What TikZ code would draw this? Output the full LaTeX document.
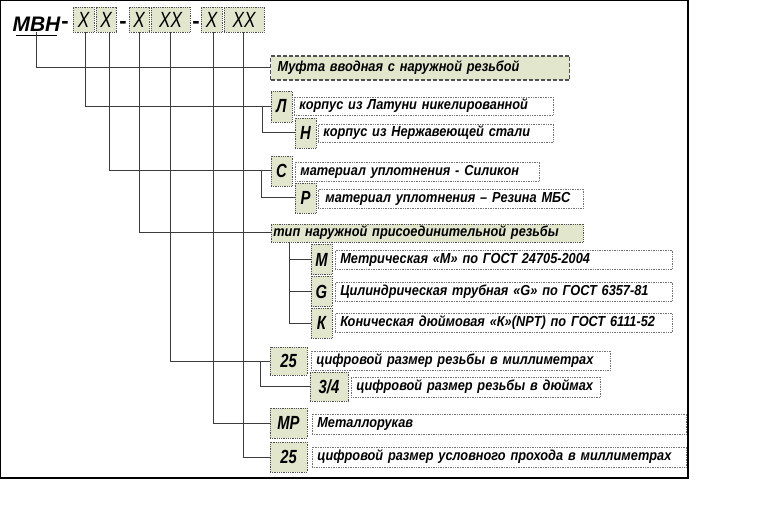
\documentclass[tikz,border=0pt]{standalone}
\usepackage{fontspec}
\setmainfont{Liberation Sans}
\newfontfamily\descfont[FakeStretch=0.88]{Liberation Sans}
\newfontfamily\narrowfont[FakeStretch=0.78]{Liberation Sans}
\definecolor{boxgreen}{RGB}{226,230,204}
\definecolor{edgegray}{RGB}{80,80,80}
\definecolor{conncol}{RGB}{60,60,60}
\begin{document}
\begin{tikzpicture}[x=1bp,y=-1bp,
  hdrbox/.style={draw=edgegray, densely dotted, line width=0.8bp, fill=boxgreen, inner sep=0pt,
    minimum height=25bp, font=\narrowfont\itshape\fontsize{22bp}{22bp}\selectfont},
  lbox/.style={draw=edgegray, densely dotted, line width=0.8bp, fill=boxgreen, inner sep=0pt,
    font=\narrowfont\bfseries\itshape\fontsize{19bp}{19bp}\selectfont},
  tbox/.style={draw=edgegray!80, densely dotted, line width=0.7bp, fill=white, anchor=west,
    inner xsep=5bp, inner ysep=0pt, align=left,
    font=\descfont\bfseries\itshape\fontsize{14.5bp}{15bp}\selectfont},
  mbox/.style={draw=edgegray, dash pattern=on 4bp off 2bp, line width=1.1bp, fill=boxgreen, anchor=west,
    inner xsep=7bp, inner ysep=0pt, align=left, minimum height=24bp,
    font=\descfont\bfseries\itshape\fontsize{14.5bp}{15bp}\selectfont},
  tipbox/.style={draw=edgegray, densely dotted, line width=0.8bp, fill=boxgreen, anchor=west,
    inner xsep=2bp, inner ysep=0pt, align=left, minimum height=18bp,
    font=\descfont\bfseries\itshape\fontsize{14.5bp}{15bp}\selectfont},
  conn/.style={draw=conncol, line width=1bp},
  dashmark/.style={inner sep=0pt, anchor=base, font=\bfseries\fontsize{22bp}{22bp}\selectfont}
]
\useasboundingbox (0,0) rectangle (758,513);
\draw[line width=1.5bp] (0.75,0.75) rectangle (688,478);

% header
\node[anchor=base, inner sep=0pt, font=\bfseries\itshape\fontsize{21bp}{21bp}\selectfont] (mvn) at (36.5,32) {МВН};
\draw[line width=1.3bp] (16,35.5) -- (57,35.5);
\node[dashmark] (d1) at (65,29) {-};
\node[dashmark] (d2) at (123,29) {-};
\node[dashmark] (d3) at (196,29) {-};
\node[hdrbox, minimum width=21bp] (b1) at (83.5,19.5) {X};
\node[hdrbox, minimum width=20bp] (b2) at (106,19.5) {X};
\node[hdrbox, minimum width=20bp] (b3) at (139,19.5) {X};
\node[hdrbox, minimum width=39bp] (b4) at (170.5,19.5) {XX};
\node[hdrbox, minimum width=21bp] (b5) at (211.5,19.5) {X};
\node[hdrbox, minimum width=40bp] (b6) at (244,19.5) {XX};

% row 1
\node[mbox, text width=285bp] (muf) at (270,68) {\mbox{Муфта вводная с наружной резьбой}};

% row 2: L / N
\node[lbox, minimum width=21bp, minimum height=31bp] (L) at (281.5,106.5) {Л};
\node[tbox, text width=249bp, minimum height=18bp] (Lt) at (294,106) {\mbox{корпус из Латуни никелированной}};
\node[lbox, minimum width=21bp, minimum height=30bp] (N) at (305.5,133) {Н};
\node[tbox, text width=225bp, minimum height=18bp] (Nt) at (318,133) {\mbox{корпус из Нержавеющей стали}};

% row 3: S / R
\node[lbox, minimum width=21bp, minimum height=30bp] (S) at (281.5,171) {С};
\node[tbox, text width=234bp, minimum height=19bp] (St) at (295,171.5) {\mbox{материал уплотнения - Силикон}};
\node[lbox, minimum width=21bp, minimum height=30bp] (R) at (305.5,198) {Р};
\node[tbox, text width=255bp, minimum height=19bp] (Rt) at (318,198.5) {\mbox{\hspace{2bp}материал уплотнения – Резина МБС}};

% row 4: thread type
\node[tipbox, text width=308bp] (tip) at (271,233) {\mbox{тип наружной присоединительной резьбы}};
\node[lbox, minimum width=21bp, minimum height=30bp] (M) at (321.5,259.5) {М};
\node[tbox, text width=327bp, minimum height=19bp] (Mt) at (335,259.5) {\mbox{Метрическая «М» по ГОСТ 24705-2004}};
\node[lbox, minimum width=21bp, minimum height=30bp] (G) at (321.5,291.5) {G};
\node[tbox, text width=327bp, minimum height=19bp] (Gt) at (335,291.5) {\mbox{Цилиндрическая трубная «G» по ГОСТ 6357-81}};
\node[lbox, minimum width=21bp, minimum height=30bp] (K) at (321.5,323) {К};
\node[tbox, text width=327bp, minimum height=19bp] (Kt) at (335,323) {\mbox{Коническая дюймовая «К»(NPT) по ГОСТ 6111-52}};

% row 5: sizes
\node[lbox, minimum width=37bp, minimum height=28bp] (s25) at (288.5,361) {25};
\node[tbox, text width=289bp, minimum height=19bp] (s25t) at (311,360.5) {\mbox{цифровой размер резьбы в миллиметрах}};
\node[lbox, minimum width=38bp, minimum height=29bp] (s34) at (329,386.5) {3/4};
\node[tbox, text width=239bp, minimum height=20bp] (s34t) at (351,387) {\mbox{цифровой размер резьбы в дюймах}};

% row 6: MP
\node[lbox, minimum width=37bp, minimum height=30bp] (mp) at (288.5,423) {МР};
\node[tbox, text width=364bp, minimum height=20bp] (mpt) at (312,424) {\mbox{Металлорукав}};

% row 7: DN
\node[lbox, minimum width=37bp, minimum height=30bp] (dn) at (288.5,457) {25};
\node[tbox, text width=364bp, minimum height=20bp] (dnt) at (312,457) {\mbox{цифровой размер условного прохода в миллиметрах}};

% connectors
\draw[conn] (mvn.south) |- (muf.west);
\draw[conn] ([xshift=1.5bp]b1.south) |- (L.west);
\draw[conn] ([xshift=-8bp]L.west) |- (N.west);
\draw[conn] ([xshift=3bp]b2.south) |- (S.west);
\draw[conn] ([xshift=-9bp]S.west) |- (R.west);
\draw[conn] (b3.south) |- (tip.west);
\draw[conn] ([xshift=18bp]tip.south west) |- (M.west);
\draw[conn] ([xshift=18bp]tip.south west) |- (G.west);
\draw[conn] ([xshift=18bp]tip.south west) |- (K.west);
\draw[conn] (b4.south) |- (s25.west);
\draw[conn] ([xshift=-9bp]s25.west) |- (s34.west);
\draw[conn] ([xshift=1.5bp]b5.south) |- (mp.west);
\draw[conn] ([xshift=-1bp]b6.south) |- (dn.west);
\end{tikzpicture}
\end{document}
